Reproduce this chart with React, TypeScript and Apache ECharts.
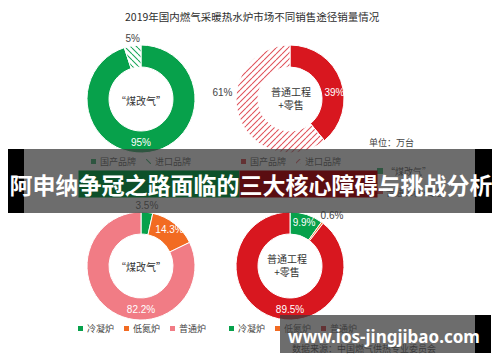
import React, { useEffect, useRef } from "react";
import * as echarts from "echarts";

const chartTitle = "2019年国内燃气采暖热水炉市场不同销售途径销量情况";
const brandCats = ["国产品牌", "进口品牌"];
const coalBrand = [95, 5];
const projectBrand = [39, 61];
const boilerCats = ["冷凝炉", "低氮炉", "普通炉"];
const coalBoiler = [3.5, 14.3, 82.2];
const projectBoiler = [9.9, 0.6, 89.5];
const channelNames = ["“煤改气”", "普通工程\n+零售"];
const channelLegend = ["“煤改气”", "普通工程+零售"];
const unitText = "单位：万台";
const bannerParts = ["阿申纳", "争冠之路面临的", "三大核心障碍", "与挑战分析"];
const siteText = "www.ios-jingjibao.com";
const sourceText = "数据来源：中国燃气供热专业委员会";

const GREEN = "#07a14b";
const RED = "#d8171f";
const ORANGE = "#f26b22";
const PINK = "#f17c85";
const FONT = '"Liberation Sans", "Noto Sans CJK SC", sans-serif';
const CJK = '"Noto Sans CJK SC", sans-serif';

// diagonal hatch tile: dir 1 = "/" , dir -1 = "\"
const hatchPattern = (color: string, dir: number) => {
  const s = 6;
  const c = document.createElement("canvas");
  c.width = s;
  c.height = s;
  const ctx = c.getContext("2d")!;
  ctx.fillStyle = "#fff";
  ctx.fillRect(0, 0, s, s);
  ctx.strokeStyle = color;
  ctx.lineWidth = 1.05;
  for (const k of [-s, 0, s]) {
    ctx.beginPath();
    if (dir > 0) {
      ctx.moveTo(k, s);
      ctx.lineTo(k + s, 0);
    } else {
      ctx.moveTo(k, 0);
      ctx.lineTo(k + s, s);
    }
    ctx.stroke();
  }
  return { image: c, repeat: "repeat" };
};

const inLabel = { show: true, position: "inside", color: "#fff", fontSize: 10, fontFamily: FONT };
const outLabel = { show: true, position: "outside", color: "#444", fontSize: 10, fontFamily: FONT };

// label placement rules, derived from each sector's bounding box
const atBottom = (r: any) => ({ x: r.x + r.width / 2, y: r.y + r.height - 11, align: "center", verticalAlign: "middle" });
const atTop = (r: any) => ({ x: r.x + r.width / 2, y: r.y - 6, align: "center", verticalAlign: "middle" });
const atLeft = (r: any) => ({ x: r.x - 3, y: r.y + r.height / 2 - 7, align: "right", verticalAlign: "middle" });
const atRightEdge = (r: any) => ({ x: r.x + r.width - 10, y: r.y + r.height / 2, align: "center", verticalAlign: "middle" });
const atTopRight = (r: any) => ({ x: r.x + r.width - 3, y: r.y - 6, align: "left", verticalAlign: "middle" });

const basePie = (center: number[], layouts: Record<number, (r: any) => any>) => ({
  type: "pie",
  center,
  radius: [32, 54],
  startAngle: 90,
  clockwise: true,
  avoidLabelOverlap: false,
  labelLine: { show: false, length: 3, length2: 0 },
  itemStyle: { borderColor: "#fff", borderWidth: 1 },
  label: { formatter: (p: any) => p.value + "%" },
  labelLayout: (p: any) => (layouts[p.dataIndex] ? layouts[p.dataIndex](p.rect) : {}),
  emphasis: { disabled: true },
});

export default function App() {
  const ref = useRef<HTMLDivElement>(null);
  useEffect(() => {
    if (!ref.current) return;
    const chart = echarts.init(ref.current, undefined, { renderer: "svg" });
    const suffix = (n: string) => n + "#2";
    const strip = (n: string) => n.replace("#2", "");
    const greenHatch = hatchPattern("#1aa85a", -1);
    const redHatch = hatchPattern("#e0525b", 1);

    const legendCommon = {
      orient: "horizontal",
      icon: "rect",
      itemWidth: 7,
      itemHeight: 7,
      itemGap: 8,
      padding: 0,
      selectedMode: false,
      formatter: strip,
      textStyle: { fontSize: 9, color: "#444", fontFamily: CJK, padding: [0, 0, 0, -2] },
    };

    const option: any = {
      animation: false,
      backgroundColor: "#fff",
      title: {
        text: chartTitle,
        left: 120,
        top: 6,
        textStyle: { fontSize: 10.5, fontWeight: "normal", color: "#2e2e2e", fontFamily: CJK },
      },
      legend: [
        { ...legendCommon, data: brandCats, left: 89, top: 157 },
        { ...legendCommon, data: brandCats.map(suffix), left: 239, top: 157 },
        { ...legendCommon, data: boilerCats, left: 76, top: 324 },
        { ...legendCommon, data: boilerCats.map(suffix), left: 227, top: 324 },
      ],
      series: [
        {
          ...basePie([141, 99], { 0: atBottom, 1: atTop }),
          data: coalBrand.map((v, i) => ({
            value: v,
            name: brandCats[i],
            itemStyle: { color: i === 0 ? GREEN : greenHatch },
            label: i === 0 ? inLabel : outLabel,
          })),
        },
        {
          ...basePie([290, 99], { 0: atRightEdge, 1: atLeft }),
          data: projectBrand.map((v, i) => ({
            value: v,
            name: suffix(brandCats[i]),
            itemStyle: { color: i === 0 ? RED : redHatch },
            label: i === 0 ? inLabel : outLabel,
          })),
        },
        {
          ...basePie([141, 266], { 0: atTop, 2: atBottom }),
          data: coalBoiler.map((v, i) => ({
            value: v,
            name: boilerCats[i],
            itemStyle: { color: [GREEN, ORANGE, PINK][i] },
            label: i === 0 ? outLabel : inLabel,
          })),
        },
        {
          ...basePie([290, 266], { 1: atTopRight, 2: atBottom }),
          data: projectBoiler.map((v, i) => ({
            value: v,
            name: suffix(boilerCats[i]),
            itemStyle: { color: [GREEN, ORANGE, RED][i] },
            label: i === 1 ? outLabel : inLabel,
          })),
        },
      ],
      graphic: [
        { type: "text", x: 141, y: 100, z: 10, style: { text: channelNames[0], fontSize: 10, fill: "#333", fontFamily: CJK, align: "center", verticalAlign: "middle" } },
        { type: "text", x: 291, y: 98, z: 10, style: { text: channelNames[1], fontSize: 10, lineHeight: 13, fill: "#333", fontFamily: CJK, align: "center", verticalAlign: "middle" } },
        { type: "text", x: 141, y: 266, z: 10, style: { text: channelNames[0], fontSize: 10, fill: "#333", fontFamily: CJK, align: "center", verticalAlign: "middle" } },
        { type: "text", x: 287, y: 265, z: 10, style: { text: channelNames[1], fontSize: 10, lineHeight: 13, fill: "#333", fontFamily: CJK, align: "center", verticalAlign: "middle" } },
        { type: "text", x: 369, y: 142, z: 10, style: { text: unitText, fontSize: 9, fill: "#444", fontFamily: CJK, verticalAlign: "middle" } },
        { type: "rect", shape: { x: 377, y: 168, width: 6, height: 6 }, z: 10, style: { fill: GREEN } },
        { type: "text", x: 386, y: 171, z: 10, style: { text: channelLegend[0], fontSize: 9, fill: "#333", fontFamily: CJK, verticalAlign: "middle" } },
        { type: "rect", shape: { x: 377, y: 188, width: 6, height: 6 }, z: 10, style: { fill: RED } },
        { type: "text", x: 386, y: 192, z: 10, style: { text: channelLegend[1], fontSize: 9, fill: "#333", fontFamily: CJK, verticalAlign: "middle" } },
        { type: "text", x: 292, y: 348, z: 10, style: { text: sourceText, fontSize: 9, fill: "#333", fontFamily: CJK, verticalAlign: "middle" } },
        // top banner
        { type: "rect", shape: { x: 24, y: 149, width: 451, height: 64 }, z: 50, style: { fill: "rgba(60,60,60,0.75)" } },
        { type: "rect", shape: { x: 8, y: 149, width: 16, height: 64 }, z: 50, style: { fill: "#000" } },
        { type: "rect", shape: { x: 475, y: 149, width: 17, height: 64 }, z: 50, style: { fill: "#000" } },
        {
          type: "text",
          x: 251,
          y: 184,
          z: 60,
          style: {
            text: `{w|${bannerParts[0]}}{g|${bannerParts[1]}}{r|${bannerParts[2]}}{w|${bannerParts[3]}}`,
            align: "center",
            verticalAlign: "middle",
            fontSize: 23,
            fontWeight: "bold",
            fontFamily: CJK,
            fill: "#fff",
            rich: {
              w: { fontSize: 23, fontWeight: "bold", fontFamily: CJK, fill: "#fff", padding: [2, 0, 2, 0] },
              g: { fontSize: 23, fontWeight: "bold", fontFamily: CJK, fill: "#fff", backgroundColor: "#0d5029", padding: [2, 0, 2, 0] },
              r: { fontSize: 23, fontWeight: "bold", fontFamily: CJK, fill: "#fff", backgroundColor: "#5a0d11", padding: [2, 0, 2, 0] },
            },
          },
        },
        // bottom banner
        { type: "rect", shape: { x: 280, y: 315, width: 195, height: 38 }, z: 50, style: { fill: "rgba(60,60,60,0.75)" } },
        { type: "rect", shape: { x: 475, y: 315, width: 16, height: 38 }, z: 50, style: { fill: "#000" } },
        { type: "text", x: 384, y: 336, z: 60, style: { text: siteText, fontSize: 17, fontWeight: "bold", fill: "#fff", fontFamily: '"Noto Sans", sans-serif', align: "center", verticalAlign: "middle" } },
      ],
    };
    chart.setOption(option);
    return () => chart.dispose();
  }, []);
  return <div ref={ref} style={{ position: "absolute", left: 0, top: 0, width: 500, height: 362 }} />;
}
